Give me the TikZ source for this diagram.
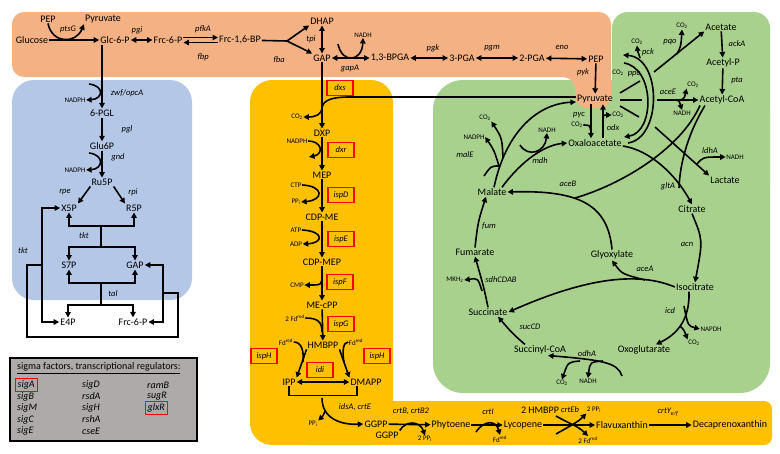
\documentclass[tikz,border=0pt]{standalone}
\usepackage{fontspec}
\setmainfont{Carlito}
\usetikzlibrary{arrows.meta, positioning, calc}

\definecolor{glycorange}{RGB}{244,177,131}
\definecolor{ppblue}{RGB}{180,199,231}
\definecolor{mepyellow}{RGB}{255,192,0}
\definecolor{tcagreen}{RGB}{169,209,142}
\definecolor{regrey}{RGB}{174,170,170}

\begin{document}
\begin{tikzpicture}[x=1pt, y=-1pt,
    met/.style={font=\fontsize{10}{11}\selectfont, inner sep=1pt},
    enz/.style={font=\fontsize{8.5}{10}\selectfont\itshape, inner sep=1pt},
    cof/.style={font=\fontsize{7}{8}\selectfont, inner sep=0.5pt},
    gene/.style={enz, draw=red, line width=1.3pt, minimum width=26pt, minimum height=15pt, inner sep=2pt},
    reg/.style={font=\fontsize{10}{11}\selectfont\itshape, anchor=west, inner sep=0pt},
    hitbox/.style={reg, draw=red, line width=1.3pt, inner sep=2.5pt},
    link/.style={line width=1.6pt},
    rxn/.style={link, -{Triangle[length=5.5pt,width=5.5pt]}},
    rev/.style={link, {Triangle[length=5.5pt,width=5.5pt]}-{Triangle[length=5.5pt,width=5.5pt]}}]
    \useasboundingbox (0,0) rectangle (780,453);

    % Pathway areas
    \fill[tcagreen, rounded corners=30pt] (433,80) rectangle (770,393);
    \fill[tcagreen, rounded corners=16pt] (612,12) rectangle (770,200);
    \fill[glycorange, rounded corners=12pt] (12,12) -- (611,12) -- (611,108) -- (575,108) -- (575,77) -- (12,77) -- cycle;
    \fill[ppblue, rounded corners=22pt] (12,80) rectangle (192,300);
    \fill[mepyellow, rounded corners=22pt] (250,80) rectangle (393,445);
    \fill[mepyellow, rounded corners=8pt] (300,401) rectangle (772,445);
    \draw[line width=1.6pt, fill=regrey] (10,358) rectangle (197,441);

    % Glycolysis
    \node[met] (glc) at (32,40) {Glucose};
    \node[met] (pepa) at (48,19) {PEP};
    \node[met] (pyra) at (103,19) {Pyruvate};
    \node[met] (g6p) at (115,40) {Glc-6-P};
    \node[met] (f6p) at (168,40) {Frc-6-P};
    \node[met] (fbp) at (240,40) {Frc-1,6-BP};
    \node[met] (dhap) at (322,21) {DHAP};
    \node[met] (gap) at (322,58) {GAP};
    \node[met] (bpga) at (390,58) {1,3-BPGA};
    \node[met] (pga3) at (462,58) {3-PGA};
    \node[met] (pga2) at (532,58) {2-PGA};
    \node[met] (pep) at (596,59) {PEP};
    \node[met] (pyr) at (595,99) {Pyruvate};
    \node[enz] (ptsg) at (68,29) {ptsG};
    \node[enz] (pgi) at (137,30) {pgi};
    \node[enz] (pfka) at (203,29) {pfkA};
    \node[enz] (fbpase) at (203,57) {fbp};
    \node[enz] (fba) at (279,60) {fba};
    \node[enz] (tpi) at (311,39) {tpi};
    \node[enz] (gapa) at (350,68) {gapA};
    \node[enz] (pgk) at (433,48) {pgk};
    \node[enz] (pgm) at (492,48) {pgm};
    \node[enz] (eno) at (562,47) {eno};
    \node[enz] (pyk) at (583,72) {pyk};
    \node[cof] (nadha) at (363,35) {NADH};

    \draw[rxn] (glc) -- (g6p);
    \draw[rxn] (pepa.south) .. controls (52,44) and (76,44) .. (pyra.south west);
    \draw[rev] (g6p) -- (f6p);
    \draw[rxn] ([yshift=2.5pt]f6p.east) -- ([yshift=2.5pt]fbp.west);
    \draw[rxn] ([yshift=-2.5pt]fbp.west) -- ([yshift=-2.5pt]f6p.east);
    \coordinate (fbaj) at (287,41);
    \draw[link] (fbp) -- (fbaj);
    \draw[rxn] (fbaj) -- (dhap.south west);
    \draw[rxn] (fbaj) -- (gap.north west);
    \draw[rev] (dhap) -- (gap);
    \draw[rev] (gap) -- (bpga);
    \coordinate (gapain) at (338,44);
    \draw[rxn] (gapain) .. controls (342,64) and (362,62) .. (nadha.south);
    \draw[rev] (bpga) -- (pga3);
    \draw[rev] (pga3) -- (pga2);
    \draw[rev] (pga2) -- (pep);
    \draw[rxn] (pep) -- (pyr);

    % Pentose phosphate pathway
    \node[met] (pgl6) at (102,113) {6-PGL};
    \node[met] (glu6p) at (102,146) {Glu6P};
    \node[met] (ru5p) at (102,182) {Ru5P};
    \node[met] (x5p) at (69,208) {X5P};
    \node[met] (r5p) at (134,208) {R5P};
    \node[met] (s7p) at (69,265) {S7P};
    \node[met] (gapb) at (135,265) {GAP};
    \node[met] (e4p) at (68,322) {E4P};
    \node[met] (f6pb) at (133,322) {Frc-6-P};
    \node[enz] (zwf) at (127,93) {zwf/opcA};
    \node[enz] (pgl) at (127,129) {pgl};
    \node[enz] (gnd) at (118,157) {gnd};
    \node[enz] (rpe) at (65,192) {rpe};
    \node[enz] (rpi) at (133,192) {rpi};
    \node[enz] (tkta) at (84,236) {tkt};
    \node[enz] (tktb) at (23,251) {tkt};
    \node[enz] (tal) at (113,294) {tal};
    \node[cof] (nadpha) at (75,100) {NADPH};
    \node[cof] (nadphb) at (75,170) {NADPH};

    \draw[rxn] (g6p.south -| pgl6) -- (pgl6);
    \coordinate (zwfin) at (89,84);
    \draw[rxn] (zwfin) .. controls (105,86) and (103,99) .. (nadpha.east);
    \draw[rxn] (pgl6) -- (glu6p);
    \draw[rxn] (glu6p) -- (ru5p);
    \coordinate (gndin) at (89,153);
    \draw[rxn] (gndin) .. controls (105,155) and (103,169) .. (nadphb.east);
    \draw[rxn] (ru5p.south west) -- (x5p.north east);
    \draw[rxn] (ru5p.south east) -- (r5p.north west);
    \coordinate (tktu) at (101,226);
    \coordinate (tktd) at (101,247);
    \draw[rxn] (tktu) -| (x5p.south);
    \draw[rxn] (tktu) -| (r5p.south);
    \draw[link] (tktu) -- (tktd);
    \draw[rxn] (tktd) -| (s7p.north);
    \draw[rxn] (tktd) -| (gapb.north);
    \coordinate (talu) at (101,283);
    \coordinate (tald) at (101,305);
    \draw[rxn] (talu) -| (s7p.south);
    \draw[rxn] (talu) -| (gapb.south);
    \draw[link] (talu) -- (tald);
    \draw[rxn] (tald) -| (e4p.north);
    \draw[rxn] (tald) -| (f6pb.north);
    \coordinate (tktl) at (42,265);
    \coordinate (tktr) at (163,293);
    \draw[rxn] (tktl) |- (x5p.west);
    \draw[rxn] (tktl) |- (e4p.west);
    \draw[rxn] (tktr) |- (gapb.east);
    \draw[rxn] (tktr) |- (f6pb.east);
    \draw[link] (tktl) -- (27,265) -- (27,337) -- (178,337) -- (178,293) -- (tktr);

    % MEP pathway
    \node[met] (dxp) at (322,133) {DXP};
    \node[met] (mep) at (322,175) {MEP};
    \node[met] (cdpme) at (322,217) {CDP-ME};
    \node[met] (cdpmep) at (322,262) {CDP-MEP};
    \node[met] (mecpp) at (322,305) {ME-cPP};
    \node[met] (hmbpp) at (323,345) {HMBPP};
    \node[met] (ipp) at (289,382) {IPP};
    \node[met] (dmapp) at (366,382) {DMAPP};
    \node[met] (ggpp) at (376,424) {GGPP};
    \node[met] (ggppb) at (387,435) {GGPP};
    \node[met] (phy) at (451,425) {Phytoene};
    \node[met] (lyc) at (523,425) {Lycopene};
    \node[met] (flx) at (622,425) {Flavuxanthin};
    \node[met] (dpx) at (730,425) {Decaprenoxanthin};
    \node[gene] (dxs) at (340,88) {dxs};
    \node[gene] (dxr) at (341,150) {dxr};
    \node[gene] (ispd) at (341,195) {ispD};
    \node[gene] (ispe) at (341,239) {ispE};
    \node[gene] (ispf) at (340,282) {ispF};
    \node[gene] (ispg) at (341,324) {ispG};
    \node[gene] (isph) at (264,356) {ispH};
    \node[gene] (isphb) at (377,356) {ispH};
    \node[gene] (idi) at (320,370) {idi};
    \node[enz] (idsa) at (355,407) {idsA, crtE};
    \node[enz] (crtb) at (411,411) {crtB, crtB2};
    \node[enz] (crti) at (488,412) {crtI};
    \node[enz] (crteb) at (570,410) {crtEb};
    \node[enz] (crty) at (668,412) {crtY\textsubscript{e/f}};
    \node[cof] (co2a) at (297,117) {CO\textsubscript{2}};
    \node[cof] (nadphc) at (297,141) {NADPH};
    \node[cof] (ctp) at (296,185) {CTP};
    \node[cof] (ppia) at (296,202) {PP\textsubscript{i}};
    \node[cof] (atp) at (296,230) {ATP};
    \node[cof] (adp) at (296,244) {ADP};
    \node[cof] (cmp) at (297,285) {CMP};
    \node[cof] (fda) at (295,318) {2 Fd\textsuperscript{red}};
    \node[cof] (fdb) at (286,342) {Fd\textsuperscript{red}};
    \node[cof] (fdc) at (356,342) {Fd\textsuperscript{red}};
    \node[cof] (ppib) at (313,424) {PP\textsubscript{i}};
    \node[cof] (ppic) at (425,439) {2 PP\textsubscript{i}};
    \node[cof] (fdd) at (500,439) {Fd\textsuperscript{red}};
    \node[met] (hmbppb) at (540,410) {2 HMBPP};
    \node[cof] (ppid) at (594,410) {2 PP\textsubscript{i}};
    \node[cof] (fde) at (588,440) {2 Fd\textsuperscript{red}};

    \draw[rxn] (gap) -- (dxp);
    \coordinate (dxsj) at (322,108);
    \draw[link] ([yshift=2pt]pyr.west) -- (350,97) .. controls (332,97) and (323,100) .. (dxsj);
    \draw[rxn] (dxsj) .. controls (322,114) and (316,117) .. (co2a.east);
    \draw[rxn] (dxp) -- (mep);
    \coordinate (dxrout) at (309,157);
    \draw[rxn] (nadphc.east) .. controls (322,141) and (324,154) .. (dxrout);
    \draw[rxn] (mep) -- (cdpme);
    \draw[rxn] (ctp.east) .. controls (324,186) and (324,200) .. (ppia.east);
    \draw[rxn] (cdpme) -- (cdpmep);
    \draw[rxn] (atp.east) .. controls (324,231) and (324,243) .. (adp.east);
    \draw[rxn] (cdpmep) -- (mecpp);
    \coordinate (ispfj) at (322,274);
    \draw[rxn] (ispfj) .. controls (322,285) .. (cmp.east);
    \draw[rxn] (mecpp) -- (hmbpp);
    \coordinate (ispgj) at (322,332);
    \draw[link] (fda.east) .. controls (318,318) and (322,322) .. (ispgj);
    \draw[rxn] (hmbpp.south west) -- (ipp.north east);
    \draw[rxn] (hmbpp.south east) -- (dmapp.north west);
    \coordinate (ispha) at (303,362);
    \coordinate (isphc) at (344,362);
    \draw[link] (fdb.east) .. controls (302,342) and (304,352) .. (ispha);
    \draw[link] (fdc.west) .. controls (343,342) and (342,352) .. (isphc);
    \draw[rev] (ipp) -- (dmapp);
    \draw[link] (ipp.south) -- ++(0,9) -| ([xshift=-9pt]dmapp.south);
    \coordinate (idsj) at (322,398);
    \draw[rxn] (idsj) .. controls (322,418) and (340,425) .. (ggpp.west);
    \coordinate (idsk) at (325,411);
    \draw[rxn] (idsk) .. controls (323,416) .. (ppib.north east);
    \draw[rxn] (ggpp) -- (phy);
    \draw[rxn] (ggppb.north east) .. controls (406,420) and (420,421) .. (ppic.north);
    \draw[rxn] (phy) -- (lyc);
    \coordinate (crtiin) at (476,432);
    \draw[rxn] (crtiin) .. controls (484,420) and (496,420) .. (fdd.north);
    \draw[rxn] (lyc) -- (flx);
    \coordinate (ebin) at (556,416);
    \coordinate (ebinb) at (556,434);
    \draw[rxn] (ebin) .. controls (570,424) and (578,426) .. (fde.north);
    \draw[rxn] (ebinb) .. controls (570,426) and (578,422) .. (ppid.south west);
    \draw[rxn] (flx) -- (dpx);

    % TCA and glyoxylate cycle
    \node[met] (oaa) at (595,143) {Oxaloacetate};
    \node[met] (mal) at (492,192) {Malate};
    \node[met] (fum) at (475,252) {Fumarate};
    \node[met] (gly) at (612,255) {Glyoxylate};
    \node[met] (suc) at (488,312) {Succinate};
    \node[met] (succoa) at (540,350) {Succinyl-CoA};
    \node[met] (oxg) at (644,350) {Oxoglutarate};
    \node[met] (icit) at (695,287) {Isocitrate};
    \node[met] (cit) at (692,209) {Citrate};
    \node[met] (lac) at (725,180) {Lactate};
    \node[met] (acoa) at (722,100) {Acetyl-CoA};
    \node[met] (acp) at (723,63) {Acetyl-P};
    \node[met] (ace) at (721,27) {Acetate};
    \node[enz] (pyc) at (579,115) {pyc};
    \node[enz] (odx) at (613,128) {odx};
    \node[enz] (pck) at (648,52) {pck};
    \node[enz] (ppc) at (634,74) {ppc};
    \node[enz] (pqo) at (670,42) {pqo};
    \node[enz] (acka) at (737,44) {ackA};
    \node[enz] (pta) at (737,80) {pta};
    \node[enz] (acee) at (668,92) {aceE};
    \node[enz] (ldha) at (710,151) {ldhA};
    \node[enz] (glta) at (668,186) {gltA};
    \node[enz] (acn) at (687,244) {acn};
    \node[enz] (acea) at (645,269) {aceA};
    \node[enz] (icd) at (670,311) {icd};
    \node[enz] (odha) at (587,354) {odhA};
    \node[enz] (succd) at (530,327) {sucCD};
    \node[enz] (sdh) at (501,280) {sdhCDAB};
    \node[enz] (fumase) at (489,226) {fum};
    \node[enz] (aceb) at (568,184) {aceB};
    \node[enz] (mdh) at (540,161) {mdh};
    \node[enz] (male) at (465,155) {malE};
    \node[cof] (co2c) at (577,125) {CO\textsubscript{2}};
    \node[cof] (co2d) at (618,115) {CO\textsubscript{2}};
    \node[cof] (co2e) at (637,42) {CO\textsubscript{2}};
    \node[cof] (co2p) at (618,73) {CO\textsubscript{2}};
    \node[cof] (co2f) at (682,26) {CO\textsubscript{2}};
    \node[cof] (co2g) at (693,85) {CO\textsubscript{2}};
    \node[cof] (nadhb) at (682,113) {NADH};
    \node[cof] (nadhc) at (735,157) {NADH};
    \node[cof] (napdh) at (711,329) {NAPDH};
    \node[cof] (co2h) at (694,343) {CO\textsubscript{2}};
    \node[cof] (co2i) at (562,383) {CO\textsubscript{2}};
    \node[cof] (nadhd) at (588,381) {NADH};
    \node[cof] (mkh) at (455,280) {MKH\textsubscript{2}};
    \node[cof] (nadhe) at (547,130) {NADH};
    \node[cof] (nadphd) at (474,137) {NADPH};
    \node[cof] (co2j) at (485,118) {CO\textsubscript{2}};

    \draw[rxn] ([xshift=-4pt]pyr.south) -- ([xshift=-4pt]oaa.north);
    \draw[rxn] ([xshift=8pt]oaa.north) -- ([xshift=8pt]pyr.south);
    \coordinate (pycj) at (591,133);
    \draw[link] (co2c.east) .. controls (590,125) .. (pycj);
    \coordinate (odxj) at (603,124);
    \draw[rxn] (odxj) .. controls (603,115) .. (co2d.west);
    \coordinate (pckst) at (628,143);
    \coordinate (pckend) at (623,55);
    \coordinate (ppcst) at (624,63);
    \coordinate (ppcend) at (624,137);
    \draw[rxn] (pckst) .. controls (662,138) and (662,58) .. (pckend);
    \draw[rxn] (ppcst) .. controls (655,68) and (655,132) .. (ppcend);
    \coordinate (pckj) at (640,58);
    \draw[rxn] (pckj) .. controls (638,54) .. (co2e.south);
    % pyruvate branches, broken where they pass the arcs
    \coordinate (ra) at (620,93);
    \coordinate (rb) at (640,81);
    \coordinate (rc) at (654,72);
    \draw[link] (ra) -- (rb);
    \draw[rxn] (rc) -- (ace.south west);
    \coordinate (pqoj) at (677,54);
    \draw[rxn] (pqoj) .. controls (681,46) .. (co2f.south);
    \coordinate (sa) at (620,100);
    \coordinate (sb) at (642,100);
    \coordinate (sc) at (657,100);
    \draw[link] (sa) -- (sb);
    \draw[rxn] (sc) -- (acoa.west);
    \coordinate (acej) at (672,100);
    \draw[rxn] (acej) .. controls (684,100) .. (co2g.south west);
    \draw[rxn] (acej) .. controls (679,100) .. (nadhb.north);
    \coordinate (ta) at (620,106);
    \coordinate (tb) at (639,117);
    \coordinate (tc) at (655,127);
    \draw[link] (ta) -- (tb);
    \draw[rxn] (tc) -- (lac.north west);
    \coordinate (ldhj) at (697,164);
    \draw[rxn] (ldhj) .. controls (703,157) .. (nadhc.west);
    \draw[rxn] (ace) -- (acp);
    \draw[rxn] (acp) -- (acoa);
    \draw[rxn] ([yshift=-3pt]oaa.east) .. controls (650,150) and (676,175) .. (cit.north);
    \coordinate (gltj) at (679,188);
    \draw[link] ([xshift=-17pt]acoa.south) .. controls (690,130) and (680,160) .. (gltj);
    \coordinate (acebj) at (575,198);
    \draw[link] ([xshift=-22pt]acoa.south) .. controls (680,150) and (620,185) .. (acebj);
    \draw[rxn] (gly.north) .. controls (608,205) and (580,190) .. (mal.east);
    \draw[rxn] (cit.south) .. controls (703,240) .. (icit.north);
    \draw[rxn] (icit.west) .. controls (630,268) and (570,285) .. (suc.east);
    \coordinate (aceaj) at (645,280);
    \draw[rxn] (aceaj) .. controls (622,274) .. (gly.south);
    \draw[rxn] ([xshift=-6pt]icit.south) .. controls (690,322) and (675,335) .. ([xshift=12pt]oxg.north);
    \coordinate (icdin) at (684,306);
    \draw[rxn] (icdin) .. controls (688,326) .. (napdh.west);
    \coordinate (icdj) at (680,326);
    \draw[rxn] (icdj) .. controls (684,330) .. (co2h.north west);
    \coordinate (odhin) at (622,376);
    \draw[rxn] (odhin) .. controls (618,362) and (600,360) .. ([xshift=8pt]succoa.south);
    \coordinate (odhj) at (580,361);
    \coordinate (odhk) at (603,361);
    \draw[rxn] (odhj) .. controls (568,362) .. (co2i.north);
    \draw[rxn] (odhk) .. controls (590,362) .. (nadhd.north);
    \draw[rxn] ([xshift=-15pt]succoa.north) .. controls (512,333) .. ([xshift=10pt]suc.south);
    \draw[rxn] (suc.north) .. controls (484,288) .. (fum.south);
    \coordinate (sdhj) at (482,291);
    \draw[rxn] (sdhj) .. controls (478,278) .. (mkh.east);
    \draw[rxn] (fum.north) .. controls (478,222) .. ([xshift=-6pt]mal.south);
    \draw[rxn] ([xshift=10pt]mal.north) .. controls (522,160) and (545,145) .. (oaa.west);
    \coordinate (mdhin) at (520,145);
    \draw[rxn] (mdhin) .. controls (528,158) and (545,152) .. (nadhe.south);
    \draw[rxn] ([xshift=2pt]mal.north) .. controls (505,135) and (535,104) .. ([yshift=-3pt]pyr.west);
    \coordinate (malein) at (484,176);
    \coordinate (malej) at (499,166);
    \coordinate (malek) at (503,158);
    \draw[link] (malein) .. controls (491,166) .. (malej);
    \draw[rxn] (malej) .. controls (494,150) .. (nadphd.east);
    \draw[rxn] (malek) .. controls (502,138) .. (co2j.south east);

    % Regulators
    \node[reg, inner sep=1pt, anchor=west] (regtitle) at (16,368) {\upshape\underline{sigma factors, transcriptional regulators:}};
    \node[hitbox] (sigA) at (14.5,385) {sigA};
    \foreach \g/\r in {sigB/2, sigM/3, sigC/4, sigE/5}
        \node[reg] (\g) at (17,{373.5+11.5*\r}) {\g};
    \foreach \g/\r in {sigD/1, rsdA/2, sigH/3, rshA/4, cseE/5}
        \node[reg] (\g) at (82,{373.5+11.5*\r}) {\g};
    \foreach \g/\r in {ramB/1, sugR/2}
        \node[reg] (\g) at (147,{373.5+11.5*\r}) {\g};
    \node[hitbox] (glxR) at (144.5,408) {glxR};
\end{tikzpicture}
\end{document}
